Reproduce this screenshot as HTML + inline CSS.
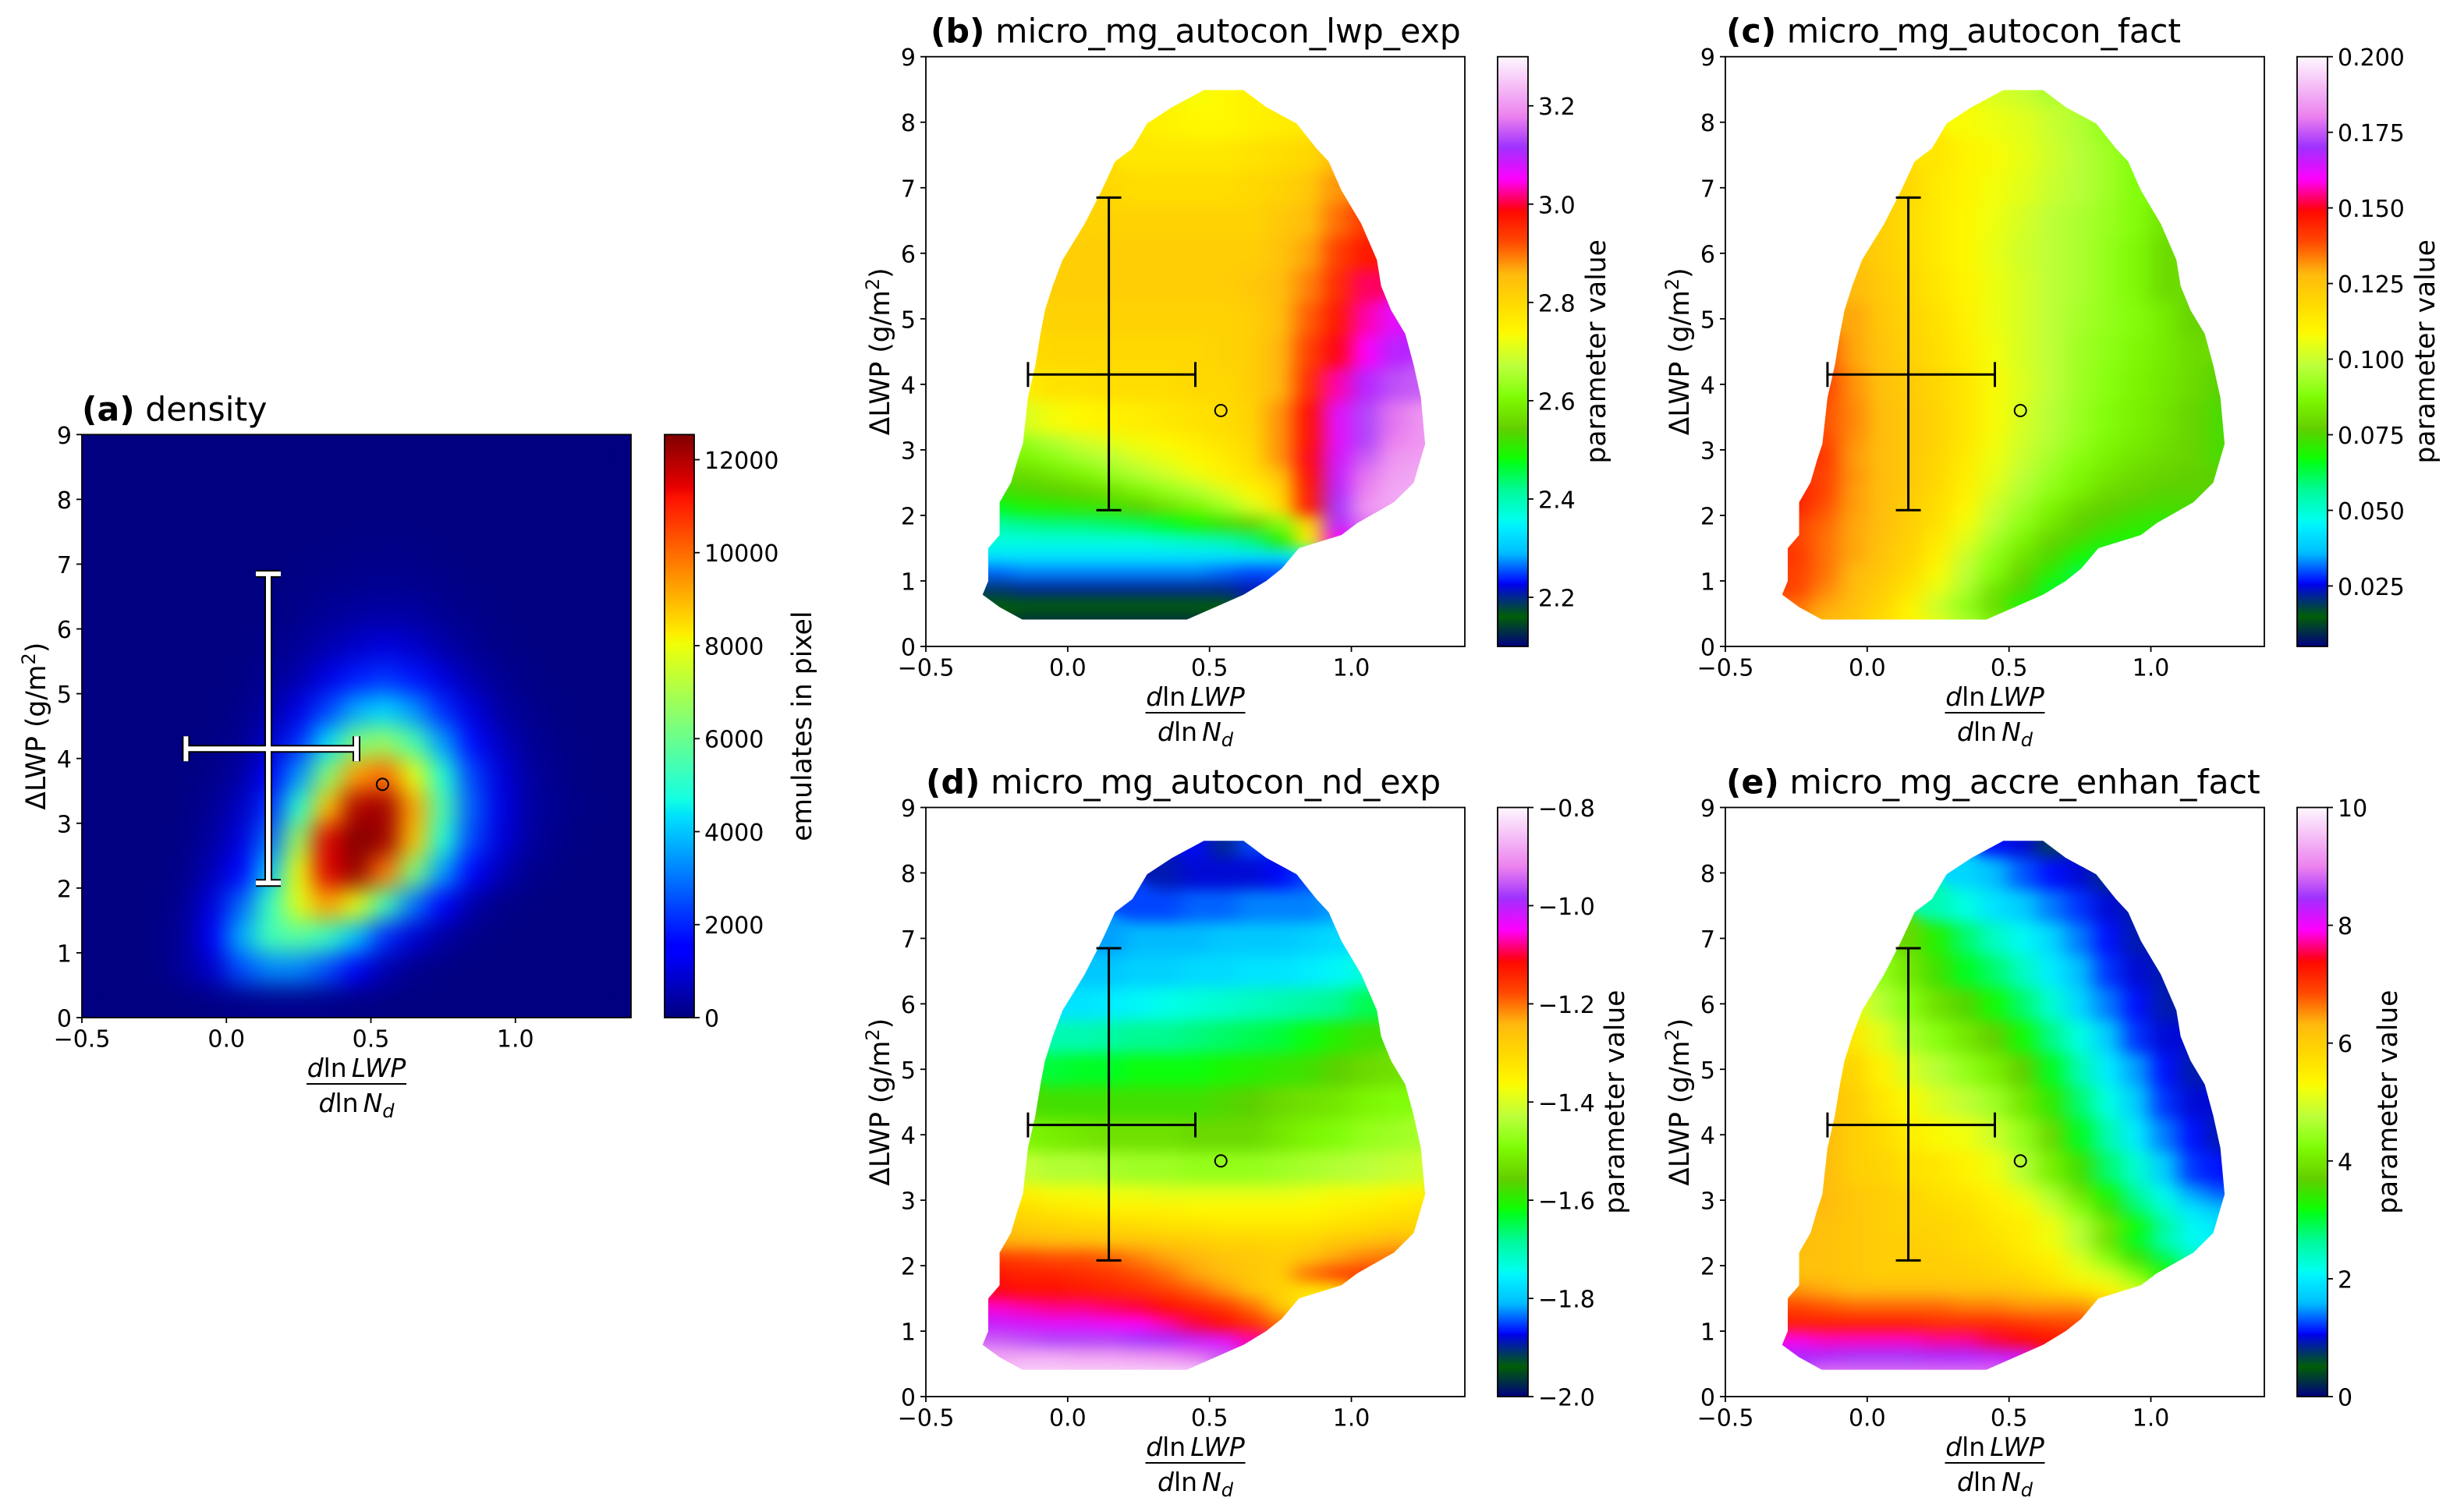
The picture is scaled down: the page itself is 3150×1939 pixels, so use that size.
<!DOCTYPE html>
<html lang="en">
<head>
<meta charset="utf-8">
<title>Parameter maps over dlnLWP/dlnNd and LWP adjustment</title>
<style>
  html, body { margin: 0; padding: 0; background: #fff; }
  svg { display: block; }
  text { font-family: "DejaVu Sans", "Liberation Sans", sans-serif; fill: #000; }
</style>
</head>
<body>
<svg id="figure" xmlns="http://www.w3.org/2000/svg" width="3150" height="1939" viewBox="0 0 3150 1939">
  <defs>
    <filter id="smooth-cells" x="-8%" y="-8%" width="116%" height="116%" color-interpolation-filters="sRGB">
      <feGaussianBlur stdDeviation="13 9"/>
      <feComponentTransfer><feFuncA type="linear" slope="30" intercept="0"/></feComponentTransfer>
    </filter>
    <filter id="smooth-density" x="-8%" y="-8%" width="116%" height="116%" color-interpolation-filters="sRGB">
      <feGaussianBlur stdDeviation="15 15"/>
      <feComponentTransfer><feFuncA type="linear" slope="30" intercept="0"/></feComponentTransfer>
    </filter>
  </defs>
  <rect x="0" y="0" width="3150" height="1939" fill="#ffffff"/>
</svg>
<script>
// ---------- data ----------
const colCenters = [-0.25,-0.15,-0.05,0.05,0.15,0.25,0.35,0.45,0.55,0.65,0.75,0.85,0.95,1.05,1.15,1.25];
const rowEdges = [0.25,0.5,0.75,1,1.25,1.5,1.75,2,2.25,2.5,2.75,3,3.25,3.75,4.25,4.75,5.25,5.75,6.25,6.75,7.25,7.75,8.25,8.75];
const firstCol = [1,0,0,0,0,0,0,0,0,1,1,1,1,1,1,2,2,2,3,4,5,6,7];

const shapeLwp   = [0.41,0.6,0.79,1.0,1.19,1.5,1.7,1.88,2.2,2.5,2.87,3.09,3.8,4.29,4.77,5.13,5.5,5.9,6.45,6.96,7.4,7.6,7.98,8.23,8.49];
const shapeLeft  = [-0.16,-0.24,-0.30,-0.28,-0.28,-0.28,-0.24,-0.24,-0.24,-0.2,-0.175,-0.158,-0.14,-0.114,-0.096,-0.08,-0.053,-0.018,0.06,0.12,0.167,0.228,0.28,0.368,0.48];
const shapeRight = [0.42,0.52,0.62,0.70,0.755,0.815,0.965,1.02,1.15,1.22,1.245,1.26,1.245,1.22,1.19,1.14,1.105,1.09,1.035,0.965,0.92,0.877,0.807,0.70,0.62];

const lwpExpValues = [
[2.13,2.13,2.13,2.13,2.13,2.13,2.13],
[2.16,2.16,2.16,2.16,2.16,2.16,2.16,2.16,2.16],
[2.19,2.2,2.2,2.2,2.2,2.2,2.2,2.2,2.2,2.21],
[2.26,2.27,2.27,2.27,2.27,2.27,2.27,2.27,2.26,2.25,2.25],
[2.33,2.33,2.33,2.33,2.33,2.33,2.33,2.33,2.33,2.33,2.33,2.36],
[2.37,2.37,2.37,2.37,2.37,2.37,2.38,2.39,2.4,2.43,2.5,2.75,3.05],
[2.41,2.42,2.43,2.43,2.44,2.45,2.47,2.49,2.52,2.55,2.62,2.8,3.1,3.17],
[2.47,2.49,2.5,2.51,2.52,2.54,2.57,2.6,2.64,2.7,2.78,2.97,3.12,3.2,3.22],
[2.52,2.53,2.54,2.55,2.57,2.6,2.63,2.66,2.7,2.74,2.8,2.97,3.1,3.18,3.22],
[2.56,2.58,2.6,2.63,2.66,2.69,2.72,2.75,2.78,2.84,2.98,3.09,3.17,3.21,3.22],
[2.6,2.62,2.65,2.67,2.7,2.72,2.74,2.76,2.79,2.88,2.99,3.08,3.15,3.2,3.21],
[2.63,2.66,2.69,2.71,2.73,2.74,2.76,2.78,2.8,2.88,2.98,3.07,3.13,3.18,3.2],
[2.7,2.73,2.74,2.75,2.76,2.77,2.78,2.79,2.81,2.88,2.98,3.07,3.13,3.17,3.2],
[2.76,2.78,2.78,2.79,2.79,2.79,2.8,2.8,2.82,2.86,2.95,3.03,3.1,3.14,3.15],
[2.79,2.8,2.8,2.8,2.8,2.8,2.8,2.81,2.82,2.86,2.93,2.99,3.05,3.1],
[2.81,2.81,2.81,2.81,2.81,2.81,2.81,2.82,2.85,2.91,2.97,3.03,3.07],
[2.82,2.82,2.82,2.82,2.82,2.82,2.82,2.83,2.85,2.89,2.95,3.01],
[2.82,2.82,2.82,2.82,2.82,2.82,2.82,2.82,2.84,2.87,2.93,2.97],
[2.81,2.81,2.81,2.81,2.81,2.81,2.81,2.83,2.85,2.9,2.94],
[2.8,2.79,2.79,2.79,2.79,2.8,2.81,2.83,2.88],
[2.77,2.77,2.77,2.77,2.78,2.79,2.8,2.85],
[2.75,2.74,2.74,2.75,2.76,2.77],
[2.73,2.74,2.75]
];

const autoconFactValues = [
[0.128,0.125,0.118,0.11,0.104,0.095,0.085],
[0.135,0.13,0.126,0.12,0.11,0.1,0.09,0.08,0.068],
[0.14,0.133,0.128,0.122,0.115,0.105,0.095,0.082,0.075,0.065],
[0.14,0.135,0.128,0.124,0.118,0.108,0.098,0.088,0.078,0.07,0.062],
[0.142,0.135,0.13,0.125,0.12,0.111,0.1,0.09,0.082,0.075,0.068,0.063],
[0.14,0.135,0.13,0.126,0.121,0.113,0.104,0.094,0.086,0.078,0.074,0.07,0.068],
[0.14,0.136,0.13,0.127,0.122,0.116,0.107,0.098,0.09,0.083,0.077,0.074,0.072,0.07],
[0.145,0.138,0.131,0.127,0.122,0.117,0.109,0.1,0.093,0.086,0.08,0.077,0.075,0.074,0.074],
[0.145,0.14,0.131,0.127,0.123,0.118,0.111,0.103,0.096,0.09,0.085,0.08,0.078,0.076,0.076],
[0.14,0.132,0.127,0.124,0.119,0.112,0.105,0.098,0.092,0.087,0.083,0.08,0.078,0.077,0.076],
[0.142,0.131,0.127,0.124,0.119,0.113,0.106,0.1,0.094,0.089,0.085,0.082,0.08,0.078,0.074],
[0.14,0.132,0.127,0.124,0.12,0.114,0.107,0.101,0.096,0.091,0.087,0.084,0.081,0.078,0.074],
[0.138,0.133,0.127,0.124,0.12,0.114,0.108,0.102,0.097,0.092,0.088,0.085,0.082,0.078,0.074],
[0.14,0.132,0.126,0.123,0.119,0.114,0.108,0.103,0.098,0.093,0.089,0.086,0.083,0.08,0.076],
[0.138,0.13,0.125,0.121,0.117,0.112,0.107,0.102,0.098,0.093,0.09,0.087,0.084,0.08],
[0.13,0.124,0.12,0.116,0.111,0.106,0.102,0.098,0.094,0.091,0.088,0.084,0.078],
[0.128,0.123,0.119,0.114,0.11,0.106,0.102,0.098,0.095,0.091,0.087,0.08],
[0.126,0.122,0.118,0.113,0.109,0.105,0.101,0.098,0.095,0.091,0.087,0.08],
[0.122,0.117,0.113,0.109,0.106,0.102,0.098,0.095,0.092,0.088,0.082],
[0.119,0.113,0.11,0.107,0.104,0.1,0.097,0.093,0.088],
[0.114,0.11,0.108,0.105,0.101,0.097,0.093,0.088],
[0.108,0.106,0.104,0.1,0.096,0.09],
[0.103,0.1,0.095]
];

const ndExpValues = [
[-0.84,-0.84,-0.84,-0.84,-0.84,-0.84,-0.84],
[-0.88,-0.88,-0.88,-0.89,-0.89,-0.9,-0.91,-0.93,-0.95],
[-0.95,-0.96,-0.97,-0.97,-0.97,-0.98,-0.99,-1.01,-1.03,-1.07],
[-1.01,-1.02,-1.03,-1.03,-1.04,-1.05,-1.07,-1.1,-1.12,-1.15,-1.2],
[-1.06,-1.07,-1.08,-1.08,-1.09,-1.1,-1.12,-1.14,-1.16,-1.2,-1.27,-1.33],
[-1.11,-1.12,-1.12,-1.13,-1.14,-1.15,-1.17,-1.19,-1.22,-1.26,-1.29,-1.33,-1.33],
[-1.13,-1.14,-1.14,-1.15,-1.16,-1.18,-1.2,-1.23,-1.25,-1.27,-1.28,-1.2,-1.17,-1.16],
[-1.16,-1.17,-1.18,-1.18,-1.19,-1.21,-1.23,-1.24,-1.26,-1.27,-1.28,-1.26,-1.23,-1.21,-1.2],
[-1.24,-1.24,-1.25,-1.25,-1.26,-1.26,-1.27,-1.28,-1.29,-1.29,-1.3,-1.29,-1.27,-1.26,-1.24],
[-1.28,-1.29,-1.3,-1.3,-1.31,-1.32,-1.32,-1.33,-1.33,-1.33,-1.33,-1.32,-1.31,-1.3,-1.29],
[-1.31,-1.33,-1.34,-1.35,-1.35,-1.35,-1.36,-1.36,-1.36,-1.36,-1.36,-1.35,-1.34,-1.33,-1.32],
[-1.35,-1.37,-1.37,-1.38,-1.38,-1.39,-1.39,-1.39,-1.39,-1.39,-1.38,-1.37,-1.37,-1.36,-1.35],
[-1.42,-1.44,-1.44,-1.45,-1.46,-1.46,-1.47,-1.47,-1.47,-1.46,-1.45,-1.44,-1.43,-1.42,-1.41],
[-1.5,-1.51,-1.52,-1.53,-1.53,-1.53,-1.54,-1.54,-1.54,-1.52,-1.5,-1.49,-1.47,-1.46,-1.45],
[-1.57,-1.58,-1.58,-1.58,-1.58,-1.58,-1.58,-1.57,-1.56,-1.54,-1.53,-1.52,-1.5,-1.49],
[-1.64,-1.63,-1.63,-1.62,-1.62,-1.62,-1.61,-1.6,-1.59,-1.58,-1.56,-1.54,-1.53],
[-1.7,-1.7,-1.69,-1.68,-1.68,-1.67,-1.66,-1.65,-1.64,-1.62,-1.6,-1.58],
[-1.77,-1.77,-1.76,-1.75,-1.74,-1.73,-1.72,-1.71,-1.7,-1.69,-1.68,-1.65],
[-1.8,-1.8,-1.79,-1.79,-1.78,-1.78,-1.77,-1.77,-1.76,-1.75,-1.73],
[-1.82,-1.81,-1.81,-1.81,-1.8,-1.8,-1.8,-1.79,-1.78],
[-1.85,-1.85,-1.84,-1.84,-1.83,-1.83,-1.83,-1.82],
[-1.89,-1.88,-1.88,-1.88,-1.87,-1.85],
[-1.87,-1.9,-1.85]
];

const accreEnhanValues = [
[8.9,8.9,8.9,8.9,8.9,8.9,8.9],
[8.4,8.4,8.5,8.5,8.5,8.4,8.4,8.3,8.2],
[7.9,7.8,7.8,7.8,7.8,7.7,7.7,7.5,7.4,7.3],
[7.2,7.2,7.2,7.2,7.2,7.1,7.1,7.1,7,6.9,6.9],
[6.9,6.8,6.7,6.7,6.7,6.7,6.6,6.6,6.5,6.5,6.5,6.2],
[6.5,6.4,6.3,6.3,6.3,6.3,6.2,6.2,6.1,5.9,5.7,5.4,5],
[6.2,6.2,6.1,6,6,6,6,5.9,5.8,5.6,5.2,5,4.3,3.3],
[6.2,6.2,6.1,6,6,6,5.9,5.8,5.6,5.4,5,4.3,3.5,2.9,2.4],
[6.3,6.2,6.1,6,6,5.9,5.8,5.7,5.5,5.2,4.7,3.9,3.1,2.5,2.1],
[6.2,6.1,6,5.9,5.9,5.8,5.6,5.5,5.2,4.7,4,3.2,2.6,2.1,1.9],
[6.3,6.1,6,5.9,5.8,5.7,5.5,5.3,4.9,4.3,3.5,2.8,2.3,1.9,1.6],
[6.3,6.1,6,5.9,5.7,5.6,5.4,5.1,4.6,3.9,3.2,2.6,2.1,1.5,1.3],
[6.3,6,5.9,5.7,5.6,5.4,5.2,4.7,4.1,3.5,2.8,2.3,1.7,1.2,1.1],
[6.3,6,5.8,5.5,5.3,5.2,4.9,4.4,3.8,3.1,2.5,2,1.4,1.1,0.9],
[6.2,6,5.6,5.3,5,4.8,4.5,4,3.4,2.8,2.2,1.7,1.2,1],
[5.9,5.4,5,4.7,4.4,4.1,3.7,3.1,2.5,2,1.5,1.1,0.9],
[5.6,5.1,4.6,4.3,4,3.7,3.2,2.7,2.2,1.7,1.2,1],
[5.2,4.7,4.3,3.9,3.6,3.2,2.8,2.3,1.8,1.4,1.1,0.9],
[4.4,4,3.5,3.1,2.8,2.4,2,1.6,1.2,1,0.9],
[3.8,3.3,2.8,2.4,2.1,1.8,1.4,1.1,0.9],
[2.5,2.2,1.9,1.7,1.4,1.2,1,0.9],
[1.8,1.6,1.3,1.1,1,0.8],
[1.1,1,0.7]
];

const densityCols = [-0.45,-0.35,-0.25,-0.15,-0.05,0.05,0.15,0.25,0.35,0.45,0.55,0.65,0.75,0.85,0.95,1.05,1.15,1.25,1.35];
const densityRowEdges = [0,0.5,1,1.5,2,2.5,3,3.5,4,4.5,5,5.5,6,6.5,7,7.5,8,8.5,9];
const densityValues = [
[0,0,0,0,50,100,120,120,100,60,30,0,0,0,0,0,0,0,0],
[0,0,20,300,800,2500,3200,3200,2500,1300,500,150,50,0,0,0,0,0,0],
[0,0,50,250,1300,3700,5400,5700,5200,3900,2100,900,350,100,30,0,0,0,0],
[0,0,30,200,1000,2800,5200,7800,9300,7900,5400,3000,1400,450,100,30,0,0,0],
[0,0,20,100,600,1600,4000,8000,11500,12300,9800,6300,3500,1600,600,150,50,0,0],
[0,0,0,60,350,1000,2900,6800,11500,12540,12200,8800,4900,2400,1000,350,100,30,0],
[0,0,0,40,220,700,2100,5000,8800,12000,12200,9200,5500,2700,1100,400,150,40,0],
[0,0,0,20,100,400,1300,3400,6400,9300,10000,7900,4900,2400,1000,350,120,30,0],
[0,0,0,0,50,200,750,2100,4300,6300,6700,5500,3500,1700,700,250,80,20,0],
[0,0,0,0,30,100,400,1100,2400,3700,4200,3400,2100,1000,400,150,50,0,0],
[0,0,0,0,0,50,200,500,1100,1900,2200,1800,1000,500,200,80,20,0,0],
[0,0,0,0,0,20,80,250,500,800,1000,800,450,200,80,30,0,0,0],
[0,0,0,0,0,0,40,120,250,350,400,350,200,100,40,0,0,0,0],
[0,0,0,0,0,0,20,50,100,150,180,150,90,40,0,0,0,0,0],
[0,0,0,0,0,0,0,20,40,60,70,60,30,0,0,0,0,0,0],
[0,0,0,0,0,0,0,0,0,20,20,20,0,0,0,0,0,0,0],
[0,0,0,0,0,0,0,0,0,0,0,0,0,0,0,0,0,0,0],
[0,0,0,0,0,0,0,0,0,0,0,0,0,0,0,0,0,0,0]
];

const errorBarX = [-0.14, 0.145, 0.45];
const errorBarY = [2.08, 4.15, 6.85];
const observedPoint = [0.54, 3.6];

const xTickValues = [-0.5, 0, 0.5, 1];
const xTickLabels = ["\u22120.5", "0.0", "0.5", "1.0"];
const yTickValues = [0,1,2,3,4,5,6,7,8,9];

const densityTicks = [0,2000,4000,6000,8000,10000,12000];
const densityTickLabels = ["0","2000","4000","6000","8000","10000","12000"];
const lwpExpTicks = [2.2,2.4,2.6,2.8,3.0,3.2];
const lwpExpTickLabels = ["2.2","2.4","2.6","2.8","3.0","3.2"];
const factTicks = [0.025,0.05,0.075,0.1,0.125,0.15,0.175,0.2];
const factTickLabels = ["0.025","0.050","0.075","0.100","0.125","0.150","0.175","0.200"];
const ndExpTicks = [-2,-1.8,-1.6,-1.4,-1.2,-1,-0.8];
const ndExpTickLabels = ["\u22122.0","\u22121.8","\u22121.6","\u22121.4","\u22121.2","\u22121.0","\u22120.8"];
const accreTicks = [0,2,4,6,8,10];
const accreTickLabels = ["0","2","4","6","8","10"];

// ---------- colour maps ----------
const jetR = [[0,0],[.35,0],[.66,1],[.89,1],[1,.5]];
const jetG = [[0,0],[.125,0],[.375,1],[.64,1],[.91,0],[1,0]];
const jetB = [[0,.5],[.11,1],[.34,1],[.65,0],[1,0]];
const ncarR = [[0,0],[.3098,0],[.3725,.3993],[.4235,.5003],[.5333,1],[.7922,1],[.8471,.6218],[.898,.9235],[1,.9961]];
const ncarG = [[0,0],[.051,.3722],[.1059,0],[.1569,.7202],[.1608,.7537],[.1647,.7752],[.2157,1],[.2588,.9804],[.2706,.9804],[.3176,1],[.3686,.8081],[.4275,1],[.5216,1],[.6314,.7292],[.6863,.2796],[.7451,0],[.7922,0],[.8431,.1753],[.898,.5],[1,.9725]];
const ncarB = [[0,.502],[.051,.0222],[.1098,1],[.2039,1],[.2627,.6145],[.3216,0],[.4157,0],[.4745,.2342],[.5333,0],[.5804,0],[.6314,.0549],[.6902,0],[.7373,0],[.7922,.9961],[.8431,1],[.898,.9341],[1,.9961]];

function channel(tbl, t) {
  t = Math.max(0, Math.min(1, t));
  for (let i = 1; i < tbl.length; i++) {
    if (t <= tbl[i][0]) {
      const a = tbl[i - 1], b = tbl[i];
      return a[1] + (b[1] - a[1]) * (t - a[0]) / (b[0] - a[0]);
    }
  }
  return tbl[tbl.length - 1][1];
}
function colorFrom(r, g, b, t) {
  return 'rgb(' + Math.round(channel(r, t) * 255) + ',' + Math.round(channel(g, t) * 255) + ',' + Math.round(channel(b, t) * 255) + ')';
}
function jet(t) { return colorFrom(jetR, jetG, jetB, t); }
function ncar(t) { return colorFrom(ncarR, ncarG, ncarB, t); }

// ---------- svg helpers ----------
const SVGNS = 'http://www.w3.org/2000/svg';
const root = document.getElementById('figure');
function make(tag, parent, props) {
  const el = document.createElementNS(SVGNS, tag);
  for (const k in props) el.setAttribute(k, props[k]);
  parent.appendChild(el);
  return el;
}
function addText(parent, str, x, y, size, anchor) {
  const el = make('text', parent, { x: x, y: y, 'font-size': size, 'text-anchor': anchor || 'start' });
  el.textContent = str;
  return el;
}
function addTspan(parent, str, props) {
  const el = make('tspan', parent, props || {});
  el.textContent = str;
  return el;
}

const TICK_SIZE = 30, LABEL_SIZE = 34.5, TITLE_SIZE = 42.6;

function drawAxesFurniture(g, box, sx, sy) {
  xTickValues.forEach(function (v, i) {
    const tick = make('line', g, { x1: sx(v), x2: sx(v), y1: box.bottom, y2: box.bottom + 7, stroke: '#000', 'stroke-width': 1.8 });
    
    
    const label = addText(g, xTickLabels[i], sx(v), box.bottom + 37.5, TICK_SIZE, 'middle');
    
    
  });
  yTickValues.forEach(function (v) {
    const tick = make('line', g, { x1: box.left - 7, x2: box.left, y1: sy(v), y2: sy(v), stroke: '#000', 'stroke-width': 1.8 });
    
    
    const label = addText(g, String(v), box.left - 13, sy(v) + 11.5, TICK_SIZE, 'end');
    
    
  });

  const frame = make('rect', g, { x: box.left, y: box.top, width: box.right - box.left, height: box.bottom - box.top, fill: 'none', stroke: '#000', 'stroke-width': 1.8 });
  
  

  // y axis title
  const cy = (box.top + box.bottom) / 2, bx = box.left - 47;
  const yTitle = make('text', g, { 'font-size': LABEL_SIZE, 'text-anchor': 'middle', transform: 'translate(' + bx + ',' + cy + ') rotate(-90)' });
  
  
  addTspan(yTitle, '\u0394LWP (g/m');
  addTspan(yTitle, '2', { 'font-size': 24, dy: -13 });
  addTspan(yTitle, ')', { dy: 13 });

  // x axis fraction title
  const cx = (box.left + box.right) / 2;
  const xTitle = make('g', g, {});
  
  
  const num = make('text', xTitle, { x: cx, y: box.bottom + 76, 'font-size': 33, 'text-anchor': 'middle' });
  addTspan(num, 'd', { 'font-style': 'italic' });
  addTspan(num, 'ln');
  addTspan(num, 'LWP', { 'font-style': 'italic', dx: 6 });
  make('line', xTitle, { x1: cx - 64, x2: cx + 64, y1: box.bottom + 85, y2: box.bottom + 85, stroke: '#000', 'stroke-width': 2 });
  const den = make('text', xTitle, { x: cx, y: box.bottom + 121, 'font-size': 33, 'text-anchor': 'middle' });
  addTspan(den, 'd', { 'font-style': 'italic' });
  addTspan(den, 'ln');
  addTspan(den, 'N', { 'font-style': 'italic', dx: 6 });
  addTspan(den, 'd', { 'font-style': 'italic', 'font-size': 24, dy: 7 });
}

function drawTitle(g, letter, name, x, y) {
  const t = make('text', g, { x: x, y: y, 'font-size': TITLE_SIZE });
  
  
  addTspan(t, '(' + letter + ')', { 'font-weight': 'bold' });
  addTspan(t, ' ' + name);
}

function drawColorbar(g, id, box, bar, cmap, vmin, vmax, ticks, labels, title, titleX) {
  const defs = root.querySelector('defs');
  const grad = make('linearGradient', defs, { id: id, x1: 0, y1: 1, x2: 0, y2: 0 });
  for (let i = 0; i <= 200; i++) {
    make('stop', grad, { offset: (i / 200), 'stop-color': cmap(i / 200) });
  }
  const sv = function (v) { return box.bottom - (v - vmin) / (vmax - vmin) * (box.bottom - box.top); };
  const cb = make('rect', g, { x: bar.left, y: box.top, width: bar.right - bar.left, height: box.bottom - box.top, fill: 'url(#' + id + ')', stroke: '#000', 'stroke-width': 1.8 });
  
  
  ticks.forEach(function (v, i) {
    const tick = make('line', g, { x1: bar.right, x2: bar.right + 7, y1: sv(v), y2: sv(v), stroke: '#000', 'stroke-width': 1.8 });
    
    
    const label = addText(g, labels[i], bar.right + 13, sv(v) + 11.5, TICK_SIZE, 'start');
    
    
  });
  const lab = make('text', g, { 'font-size': LABEL_SIZE, 'text-anchor': 'middle', transform: 'translate(' + titleX + ',' + ((box.top + box.bottom) / 2) + ') rotate(-90)' });
  lab.textContent = title;
  
  
}

function drawCross(g, sx, sy, white) {
  const segs = [
    [sx(errorBarX[0]), sy(errorBarY[1]), sx(errorBarX[2]), sy(errorBarY[1])],
    [sx(errorBarX[1]), sy(errorBarY[0]), sx(errorBarX[1]), sy(errorBarY[2])],
    [sx(errorBarX[0]), sy(errorBarY[1]) - 16, sx(errorBarX[0]), sy(errorBarY[1]) + 16],
    [sx(errorBarX[2]), sy(errorBarY[1]) - 16, sx(errorBarX[2]), sy(errorBarY[1]) + 16],
    [sx(errorBarX[1]) - 16, sy(errorBarY[0]), sx(errorBarX[1]) + 16, sy(errorBarY[0])],
    [sx(errorBarX[1]) - 16, sy(errorBarY[2]), sx(errorBarX[1]) + 16, sy(errorBarY[2])]
  ];
  const cross = make('g', g, {});
  
  
  segs.forEach(function (s) {
    make('line', cross, { x1: s[0], y1: s[1], x2: s[2], y2: s[3], stroke: '#000', 'stroke-width': white ? 10 : 3 });
  });
  if (white) {
    segs.forEach(function (s) {
      make('line', cross, { x1: s[0], y1: s[1], x2: s[2], y2: s[3], stroke: '#fff', 'stroke-width': 6 });
    });
  }
  const pt = make('circle', g, { cx: sx(observedPoint[0]), cy: sy(observedPoint[1]), r: 7.5, fill: 'none', stroke: '#000', 'stroke-width': 2 });
  
  
}

// ---------- panels ----------
function drawMapPanel(cfg) {
  const box = cfg.box;
  const sx = function (v) { return box.left + (v + 0.5) / 1.9 * (box.right - box.left); };
  const sy = function (v) { return box.bottom - v / 9 * (box.bottom - box.top); };
  const g = make('g', root, {});
  
  

  // clip to the emulated domain outline
  const pts = [];
  shapeLwp.forEach(function (l, i) { pts.push(sx(shapeLeft[i]) + ',' + sy(l)); });
  for (let i = shapeLwp.length - 1; i >= 0; i--) pts.push(sx(shapeRight[i]) + ',' + sy(shapeLwp[i]));
  const clip = make('clipPath', root.querySelector('defs'), { id: cfg.id + '-clip' });
  make('polygon', clip, { points: pts.join(' ') });

  const clipped = make('g', g, { 'clip-path': 'url(#' + cfg.id + '-clip)' });
  const cells = make('g', clipped, { filter: 'url(#smooth-cells)' });
  
  
  cfg.values.forEach(function (row, r) {
    row.forEach(function (v, k) {
      const c = firstCol[r] + k;
      const x0 = sx(colCenters[c] - 0.05), x1 = sx(colCenters[c] + 0.05);
      const y0 = sy(rowEdges[r + 1]), y1 = sy(rowEdges[r]);
      const t = (v - cfg.vmin) / (cfg.vmax - cfg.vmin);
      const cell = make('rect', cells, { x: x0 - 0.5, y: y0 - 0.5, width: x1 - x0 + 1, height: y1 - y0 + 1, fill: ncar(t) });
      
      
    });
  });

  drawCross(g, sx, sy, false);
  drawAxesFurniture(g, box, sx, sy);
  drawTitle(g, cfg.letter, cfg.title, cfg.titleX, box.top - 18);
  drawColorbar(g, cfg.id + '-grad', box, cfg.bar, ncar, cfg.vmin, cfg.vmax, cfg.ticks, cfg.tickLabels, 'parameter value', cfg.cbTitleX);
}

function drawDensityPanel() {
  const box = { left: 105, right: 809, top: 557.3, bottom: 1305 };
  const vmin = 0, vmax = 12540;
  const sx = function (v) { return box.left + (v + 0.5) / 1.9 * (box.right - box.left); };
  const sy = function (v) { return box.bottom - v / 9 * (box.bottom - box.top); };
  const g = make('g', root, {});
  
  

  const clip = make('clipPath', root.querySelector('defs'), { id: 'density-clip' });
  make('rect', clip, { x: box.left, y: box.top, width: box.right - box.left, height: box.bottom - box.top });
  const clipped = make('g', g, { 'clip-path': 'url(#density-clip)' });
  make('rect', clipped, { x: box.left, y: box.top, width: box.right - box.left, height: box.bottom - box.top, fill: jet(0) });
  const cells = make('g', clipped, { filter: 'url(#smooth-density)' });
  
  
  densityValues.forEach(function (row, r) {
    row.forEach(function (v, c) {
      const x0 = sx(densityCols[c] - 0.05), x1 = sx(densityCols[c] + 0.05);
      const y0 = sy(densityRowEdges[r + 1]), y1 = sy(densityRowEdges[r]);
      const cell = make('rect', cells, { x: x0 - 0.5, y: y0 - 0.5, width: x1 - x0 + 1, height: y1 - y0 + 1, fill: jet((v - vmin) / (vmax - vmin)) });
      
      
    });
  });

  drawCross(g, sx, sy, true);
  drawAxesFurniture(g, box, sx, sy);
  drawTitle(g, 'a', 'density', 105, box.top - 18);
  drawColorbar(g, 'density-grad', box, { left: 852, right: 890 }, jet, vmin, vmax, densityTicks, densityTickLabels, 'emulates in pixel', 1040);
}

drawDensityPanel();
drawMapPanel({ id: 'b', name: 'panel-b-lwp-exp', letter: 'b', title: 'micro_mg_autocon_lwp_exp', titleX: 1193,
  box: { left: 1187, right: 1878, top: 72.7, bottom: 829 }, bar: { left: 1920, right: 1959 },
  values: lwpExpValues, vmin: 2.1, vmax: 3.3, ticks: lwpExpTicks, tickLabels: lwpExpTickLabels, cbTitleX: 2058 });
drawMapPanel({ id: 'c', name: 'panel-c-autocon-fact', letter: 'c', title: 'micro_mg_autocon_fact', titleX: 2213,
  box: { left: 2212, right: 2903, top: 72.7, bottom: 829 }, bar: { left: 2945, right: 2984 },
  values: autoconFactValues, vmin: 0.005, vmax: 0.2, ticks: factTicks, tickLabels: factTickLabels, cbTitleX: 3121 });
drawMapPanel({ id: 'd', name: 'panel-d-nd-exp', letter: 'd', title: 'micro_mg_autocon_nd_exp', titleX: 1187,
  box: { left: 1187, right: 1878, top: 1035.5, bottom: 1791 }, bar: { left: 1920, right: 1959 },
  values: ndExpValues, vmin: -2, vmax: -0.8, ticks: ndExpTicks, tickLabels: ndExpTickLabels, cbTitleX: 2082 });
drawMapPanel({ id: 'e', name: 'panel-e-accre-enhan', letter: 'e', title: 'micro_mg_accre_enhan_fact', titleX: 2213,
  box: { left: 2212, right: 2903, top: 1035.5, bottom: 1791 }, bar: { left: 2945, right: 2984 },
  values: accreEnhanValues, vmin: 0, vmax: 10, ticks: accreTicks, tickLabels: accreTickLabels, cbTitleX: 3073 });
</script>
</body>
</html>
